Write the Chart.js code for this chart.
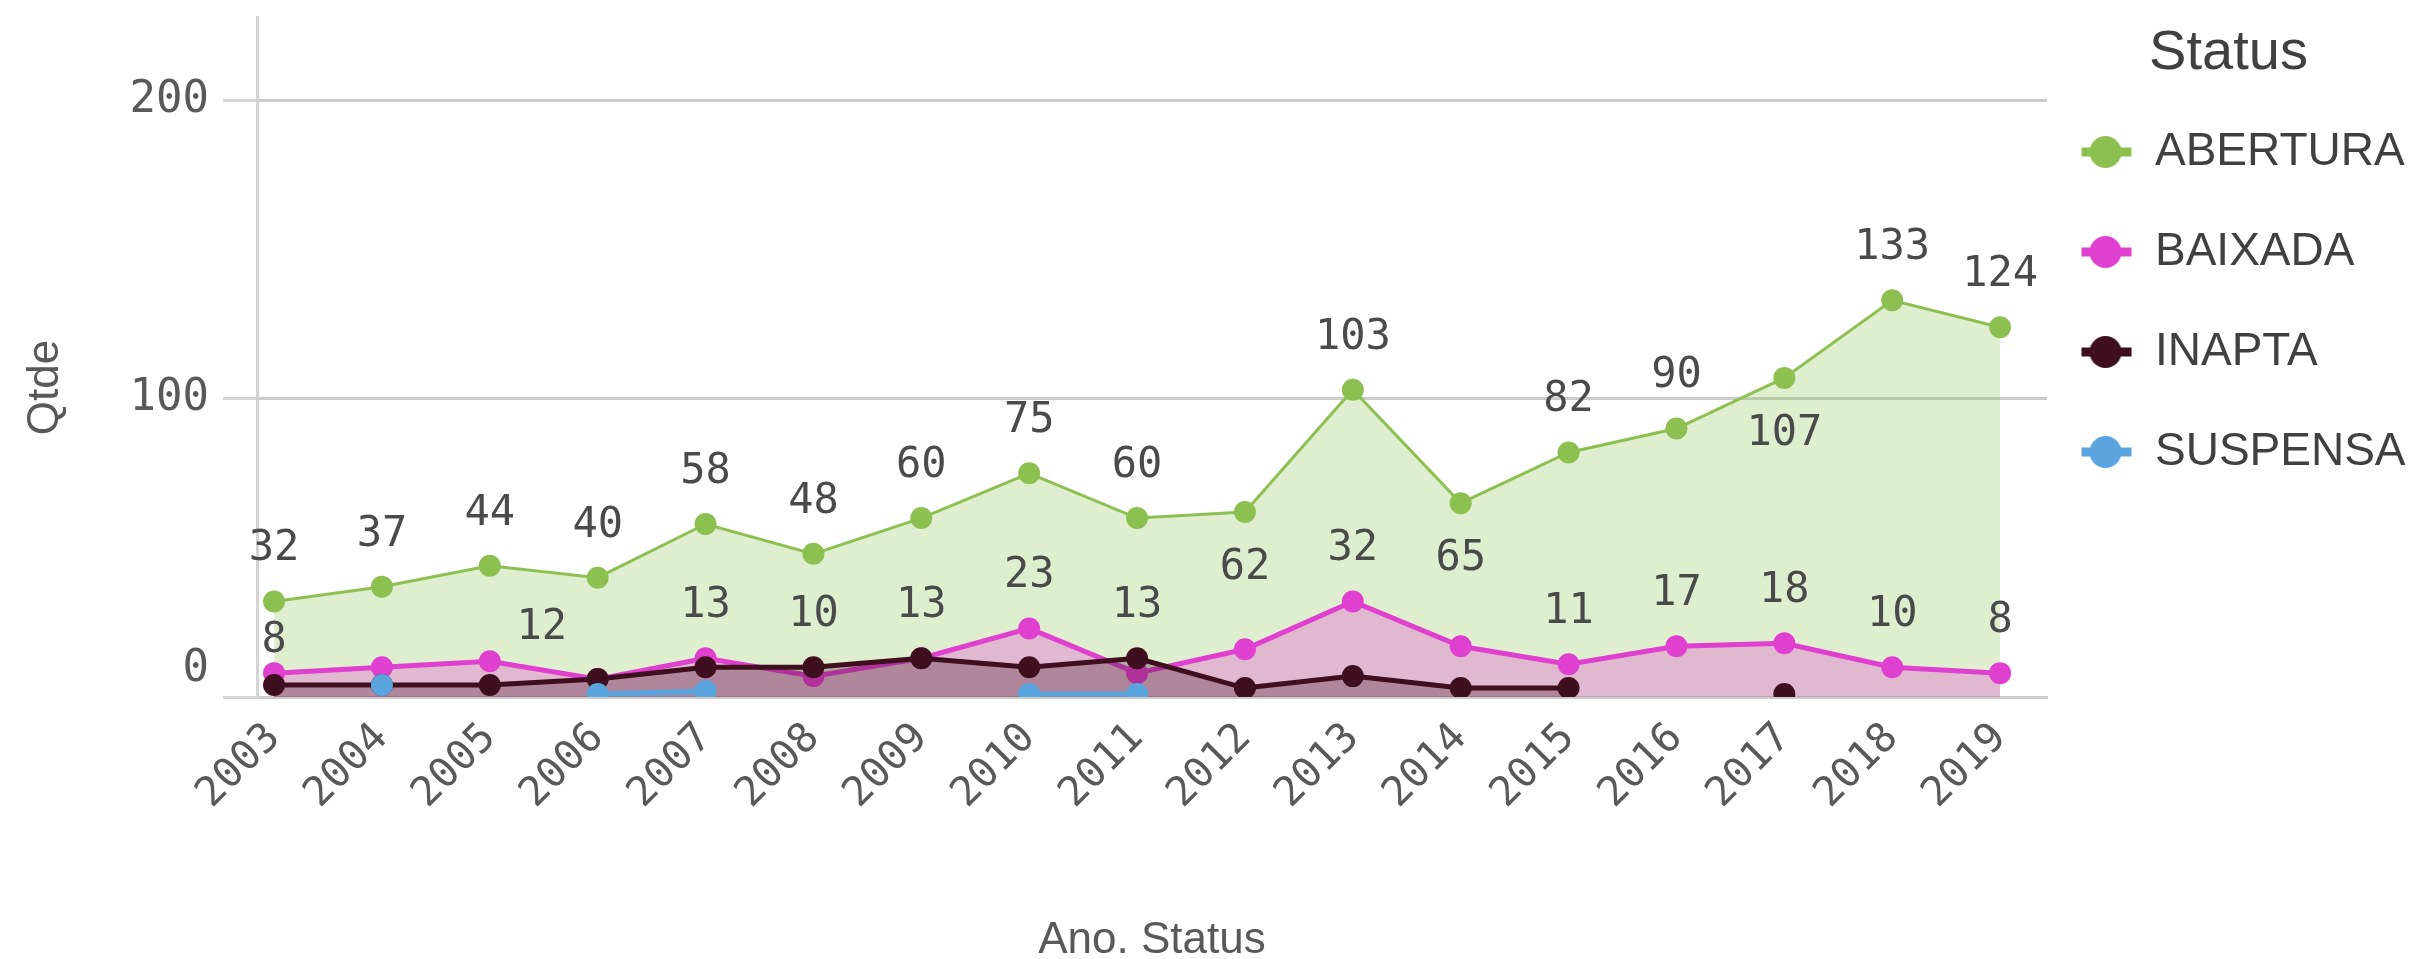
<!DOCTYPE html>
<html>
<head>
<meta charset="utf-8">
<script src="https://cdn.jsdelivr.net/npm/chart.js@4.4.1/dist/chart.umd.min.js"></script>
<style>
  html, body { margin: 0; padding: 0; background: #fff; }
  canvas { display: block; }
</style>
</head>
<body>
<canvas id="grafico" width="2410" height="959"></canvas>
<script>
// ---- dados ----
const anos = [2003, 2004, 2005, 2006, 2007, 2008, 2009, 2010, 2011, 2012, 2013, 2014, 2015, 2016, 2017, 2018, 2019];
const abertura = [32, 37, 44, 40, 58, 48, 60, 75, 60, 62, 103, 65, 82, 90, 107, 133, 124];
const baixada  = [8, 10, 12, 6, 13, 7, 13, 23, 8, 16, 32, 17, 11, 17, 18, 10, 8];
const inapta   = [4, 4, 4, 6, 10, 10, 13, 10, 13, 3, 7, 3, 3, null, 1, null, null];
const suspensa = [null, 4, null, 1, 2, null, null, 1, 1, null, null, null, null, null, null, null, null];
const yTicks = [0, 100, 200];

// anos que mostram o rótulo do valor
const rotulosAbertura = anos;
const rotulosBaixada = [2003, 2005, 2007, 2010, 2013, 2015, 2016, 2017, 2018, 2019];
const rotulosInapta = [2008, 2009, 2011];
const rotulosSuspensa = [];
const abaixoAbertura = [2012, 2014, 2017]; // rótulo desenhado embaixo do ponto

// ---- estilo ----
const COR = {
  abertura: '#8cc152', baixada: '#e040d0', inapta: '#3e0f1e', suspensa: '#5aa5e0',
  texto: '#595959', rotulo: '#4a4a4a', grade: '#cccccc',
};
const MONO = '"DejaVu Sans Mono", monospace';
const SANS = '"Liberation Sans", Arial, sans-serif';
const ajuste = { 'BAIXADA-2003': [0, -32], 'BAIXADA-2005': [52, -33] };

function rgba(hex, a) {
  const n = parseInt(hex.slice(1), 16);
  return `rgba(${n >> 16},${(n >> 8) & 255},${n & 255},${a})`;
}

// marcador da legenda: linha com bolinha
function marcador(cor) {
  const cv = document.createElement('canvas');
  cv.width = 100; cv.height = 36;
  const g = cv.getContext('2d');
  g.strokeStyle = cor; g.lineWidth = 9;
  g.beginPath(); g.moveTo(15, 18); g.lineTo(65, 18); g.stroke();
  g.fillStyle = cor;
  g.beginPath(); g.arc(39, 18, 16, 0, Math.PI * 2); g.fill();
  return cv;
}

function serie(label, valores, cor, largura, alfa, ordem, rotulos) {
  return {
    label,
    data: anos.map((a, i) => ({ x: a, y: valores[i] })),
    borderColor: cor,
    backgroundColor: rgba(cor, alfa),
    borderWidth: largura,
    pointRadius: 11,
    pointBackgroundColor: cor,
    pointBorderWidth: 0,
    fill: 'origin',
    tension: 0,
    spanGaps: false,
    order: ordem,
    rotulos,
  };
}

const pluginRotulos = {
  id: 'rotulos',
  afterDatasetsDraw(chart) {
    const { ctx } = chart;
    ctx.save();
    ctx.font = `42px ${MONO}`;
    ctx.fillStyle = COR.rotulo;
    ctx.textAlign = 'center';
    ctx.textBaseline = 'middle';
    chart.data.datasets.forEach((ds, di) => {
      const meta = chart.getDatasetMeta(di);
      anos.forEach((ano, i) => {
        const v = ds.data[i].y;
        if (v == null || !ds.rotulos.includes(ano)) return;
        const pt = meta.data[i];
        let dx = 0, dy = -52;
        if (ds.label === 'ABERTURA' && abaixoAbertura.includes(ano)) dy = 56;
        const aj = ajuste[ds.label + '-' + ano];
        if (aj) { dx = aj[0]; dy = aj[1]; }
        ctx.fillText(String(v), pt.x + dx, pt.y + dy);
      });
    });
    ctx.restore();
  },
};

new Chart(document.getElementById('grafico'), {
  type: 'line',
  data: {
    datasets: [
      serie('ABERTURA', abertura, COR.abertura, 3, 0.28, 4, rotulosAbertura),
      serie('BAIXADA', baixada, COR.baixada, 5, 0.3, 3, rotulosBaixada),
      serie('INAPTA', inapta, COR.inapta, 5, 0.3, 2, rotulosInapta),
      serie('SUSPENSA', suspensa, COR.suspensa, 5, 0.3, 1, rotulosSuspensa),
    ],
  },
  options: {
    responsive: false,
    animation: false,
    events: [],
    layout: { padding: { top: 17, left: 0, right: 0, bottom: 0 } },
    plugins: {
      tooltip: { enabled: false },
      legend: {
        position: 'right',
        align: 'start',
        maxWidth: 363,
        title: {
          display: true, text: 'Status', color: '#404040', position: 'center',
          font: { family: SANS, size: 56, lineHeight: 0.875 },
          padding: { top: 9, bottom: 0 },
        },
        labels: {
          usePointStyle: true,
          pointStyleWidth: 31,
          padding: 54,
          color: COR.texto,
          font: { family: SANS, size: 46 },
          generateLabels: (chart) => chart.data.datasets.map((ds, i) => ({
            text: ds.label,
            pointStyle: marcador(ds.borderColor),
            fillStyle: ds.borderColor,
            strokeStyle: ds.borderColor,
            lineWidth: 0,
            hidden: false,
            datasetIndex: i,
          })),
        },
      },
    },
    scales: {
      x: {
        type: 'linear',
        min: 2002.842,
        max: 2019.435,
        afterBuildTicks: (s) => { s.ticks = anos.map(v => ({ value: v })); },
        afterFit: (s) => { s.height = 262; s.paddingLeft = 0; s.paddingRight = 0; },
        ticks: {
          autoSkip: false, minRotation: 45, maxRotation: 45, padding: 17,
          color: COR.texto, font: { family: MONO, size: 41 },
          callback: (v) => String(v),
        },
        grid: { display: false, drawTicks: false },
        border: { display: true, color: COR.grade, width: 3 },
        title: {
          display: true, text: 'Ano. Status', color: COR.texto,
          font: { family: SANS, size: 44, lineHeight: 0.8 },
          padding: { top: 0, bottom: 1 },
        },
      },
      y: {
        min: 0,
        max: 228,
        afterBuildTicks: (s) => { s.ticks = yTicks.map(v => ({ value: v })); },
        afterFit: (s) => { s.width = 257; s.paddingTop = 0; },
        ticks: {
          color: COR.texto, padding: 14,
          font: { family: MONO, size: 44, lineHeight: 1.25 },
          callback: (v) => (v === 0 ? ['0', ''] : String(v)),
        },
        grid: { color: COR.grade, lineWidth: 3, tickLength: 34, tickColor: '#d6d6d6' },
        border: { display: true, color: '#d4d4d4', width: 3 },
        title: {
          display: true, text: 'Qtde     ', color: COR.texto,
          font: { family: SANS, size: 44 },
          padding: { top: 19, bottom: 0 },
        },
      },
    },
  },
  plugins: [pluginRotulos],
});
</script>
</body>
</html>
